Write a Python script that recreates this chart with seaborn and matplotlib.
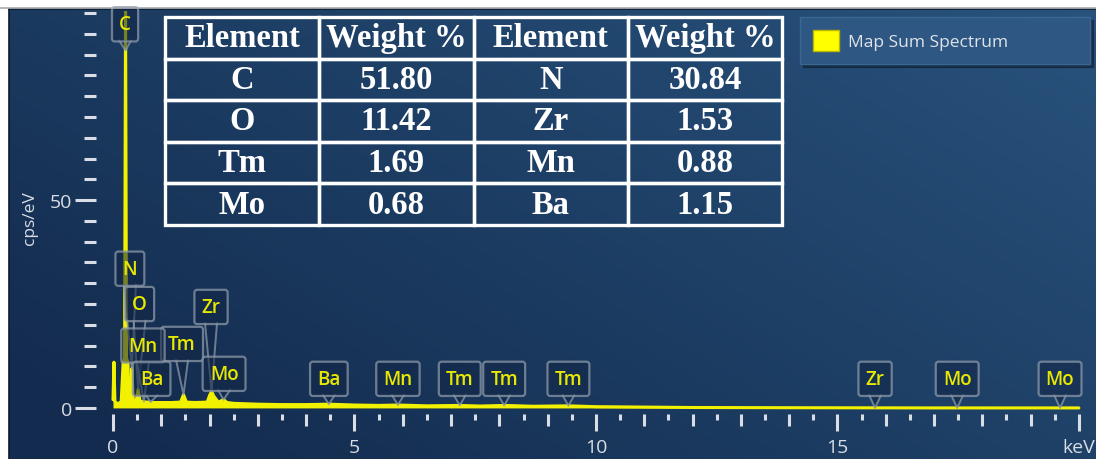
import numpy as np
import matplotlib
matplotlib.use("Agg")
import matplotlib.pyplot as plt
import seaborn as sns
from matplotlib.patches import Patch
from matplotlib.ticker import MultipleLocator, FixedLocator, FixedFormatter

sns.set_theme(style="dark")
plt.rcParams["font.family"] = ["Open Sans", "DejaVu Sans"]

# EDS spectrum (energy in keV, intensity in cps/eV)
energy_kev = [0.00, 0.02, 0.04, 0.10, 0.17, 0.21, 0.24, 0.26, 0.28, 0.31, 0.33,
              0.36, 0.39, 0.42, 0.48, 0.52, 0.56, 0.64, 0.70, 0.78, 0.85, 1.00,
              1.20, 1.40, 1.46, 1.52, 1.70, 1.95, 2.00, 2.04, 2.09, 2.18, 2.29,
              2.36, 2.50, 3.00, 3.50, 4.00, 4.47, 5.00, 5.50, 5.90, 6.50, 7.18,
              7.60, 8.10, 8.70, 9.43, 10.00, 11.00, 12.00, 14.00, 17.00, 20.00]
counts_cps = [2.0, 11.0, 1.5, 1.0, 1.5, 11.0, 12.0, 97.0, 12.0, 11.0, 3.0,
              2.0, 9.5, 2.0, 1.6, 4.5, 1.6, 1.5, 1.4, 1.4, 1.3, 1.3,
              1.3, 1.4, 3.2, 1.4, 1.3, 1.4, 3.0, 4.0, 2.8, 1.4, 2.0,
              1.3, 1.1, 0.9, 0.8, 0.8, 0.9, 0.7, 0.6, 0.7, 0.5, 0.6,
              0.45, 0.6, 0.4, 0.5, 0.3, 0.2, 0.1, 0.05, 0.0, 0.0]

# Peak identification labels
label_elements = ["C", "N", "O", "Zr", "Tm", "Mn", "Ba", "Mo",
                  "Ba", "Mn", "Tm", "Tm", "Tm", "Zr", "Mo", "Mo"]
label_lines_kev = [0.26, 0.39, 0.52, 2.04, 1.46, 0.64, 0.78, 2.29,
                   4.47, 5.90, 7.18, 8.10, 9.43, 15.78, 17.48, 19.61]
label_tips_cps = [86.0, 9.5, 4.5, 4.0, 3.2, 1.5, 1.4, 2.0,
                  0.9, 0.7, 0.6, 0.6, 0.5, 0.0, 0.0, 0.0]
label_box_x_kev = [0.25, 0.35, 0.55, 2.03, 1.43, 0.62, 0.80, 2.30,
                   4.47, 5.90, 7.18, 8.10, 9.43, 15.78, 17.48, 19.61]
label_box_y_cps = [92.3, 33.5, 25.0, 24.3, 15.4, 15.0, 7.0, 8.2,
                   7.0, 7.0, 7.0, 7.0, 7.0, 7.0, 7.0, 7.0]

# Quantification results
table_header = ["Element", "Weight %", "Element", "Weight %"]
elements_left = ["C", "O", "Tm", "Mo"]
weight_left = [51.80, 11.42, 1.69, 0.68]
elements_right = ["N", "Zr", "Mn", "Ba"]
weight_right = [30.84, 1.53, 0.88, 1.15]

x_tick_values = [0, 5, 10, 15, 20]
x_tick_labels = ["0", "5", "10", "15", "keV"]
y_tick_values = [0, 50]

W, H = 1096, 460
fig = plt.figure(figsize=(W / 100, H / 100), dpi=100, facecolor="white")

# Panel background with soft gradient
bg = fig.add_axes([9 / W, 0, 1 - 9 / W, 450 / H])
gx, gy = np.meshgrid(np.linspace(0, 1, 300), np.linspace(0, 1, 150))
t = np.clip(0.65 * gx + 0.45 * (1 - gy) - 0.08, 0, 1)
dark = np.array([19, 43, 78]) / 255
light = np.array([40, 82, 124]) / 255
img = dark[None, None, :] * (1 - t[..., None]) + light[None, None, :] * t[..., None]
bg.imshow(img, aspect="auto", extent=[0, 1, 0, 1], origin="upper")
bg.set_xlim(0, 1)
bg.set_ylim(0, 1)
bg.set_xticks([])
bg.set_yticks([])
for side, sp in bg.spines.items():
    sp.set_visible(side in ("top", "left"))
    sp.set_color("#0d1a2c")
    sp.set_linewidth(1.2)
fig.add_artist(plt.Line2D([0, 1], [1 - 8.5 / H, 1 - 8.5 / H], transform=fig.transFigure,
                          color="#a8adb3", lw=1.2))

ax = fig.add_axes([110 / W, (H - 411) / H, 980 / W, 399 / H])
ax.set_facecolor("none")
ax.set_xlim(-0.062, 20.23)
ax.set_ylim(-0.5, 95.5)

yellow = "#f2f200"
sns.lineplot(x=energy_kev, y=counts_cps, ax=ax, color=yellow, lw=2.2,
             estimator=None, zorder=2, legend=False)
ax.fill_between(energy_kev, counts_cps, 0, color=yellow, lw=0, zorder=2)

tick_color = "#d9dde6"
for sp in ax.spines.values():
    sp.set_visible(False)
ax.spines["left"].set_position(("outward", 10))
ax.spines["bottom"].set_position(("outward", 3))
ax.grid(False)

ax.xaxis.set_major_locator(FixedLocator(x_tick_values))
ax.xaxis.set_major_formatter(FixedFormatter(x_tick_labels))
ax.xaxis.set_minor_locator(MultipleLocator(1))
ax.yaxis.set_major_locator(FixedLocator(y_tick_values))
ax.yaxis.set_minor_locator(MultipleLocator(5))
ax.tick_params(axis="x", which="major", direction="out", length=12, width=2.2,
               color=tick_color, labelcolor=tick_color, labelsize=14, pad=5, bottom=True)
ax.tick_params(axis="x", which="minor", direction="out", length=8.5, width=2.2,
               color=tick_color, bottom=True)
ax.tick_params(axis="y", which="major", direction="out", length=15, width=2.2,
               color=tick_color, labelcolor=tick_color, labelsize=14, pad=2, left=True)
ax.tick_params(axis="y", which="minor", direction="out", length=8.5, width=2.2,
               color=tick_color, left=True)

# Half-keV ticks on a twin axis
ax_half = ax.twiny()
ax_half.set_xlim(ax.get_xlim())
for sp in ax_half.spines.values():
    sp.set_visible(False)
ax_half.spines["bottom"].set_position(("outward", 3))
ax_half.xaxis.set_ticks_position("bottom")
ax_half.xaxis.set_major_locator(FixedLocator(np.arange(0.5, 20, 1.0)))
ax_half.tick_params(axis="x", which="major", direction="out", length=4.5, width=2.2,
                    color=tick_color, labelbottom=False, labeltop=False, bottom=True, top=False)
ax_half.set_facecolor("none")
ax_half.grid(False)

ax.set_ylabel("cps/eV", color=tick_color, fontsize=12.5)
ax.yaxis.set_label_coords(-0.073, 0.484)
ax.set_xlabel("")

# Peak labels
box_fc = (0.07, 0.15, 0.27, 0.55)
box_ec = (0.55, 0.60, 0.66, 0.75)
texts = []
for el, bx, by in zip(label_elements, label_box_x_kev, label_box_y_cps):
    txt = ax.text(bx, by, el, ha="center", va="center", color="#e8e800", fontsize=13.5,
                  fontweight="semibold", zorder=5,
                  bbox=dict(boxstyle="round,pad=0.38,rounding_size=0.15",
                            fc=box_fc, ec=box_ec, lw=1.6))
    texts.append(txt)

fig.canvas.draw()
inv = ax.transData.inverted()
for txt, tip_x, tip_y in zip(texts, label_lines_kev, label_tips_cps):
    bb = txt.get_bbox_patch().get_window_extent()
    cx = 0.5 * (bb.x0 + bb.x1)
    (lx, byd), (rx, _) = inv.transform([(cx - 6, bb.y0 + 1), (cx + 6, bb.y0 + 1)])
    ax.fill([lx, tip_x, rx], [byd, tip_y, byd], color=box_fc, lw=0, zorder=4)
    ax.plot([lx, tip_x, rx], [byd, tip_y, byd], color=box_ec, lw=1.4, zorder=4)

# Composition table
cell_text = [[el_l, f"{w_l:.2f}", el_r, f"{w_r:.2f}"]
             for el_l, w_l, el_r, w_r in zip(elements_left, weight_left, elements_right, weight_right)]
x0 = (165 - 110) / 980
x1 = (782 - 110) / 980
y1 = (411 - 18) / 399
y0 = (411 - 226) / 399
table = ax.table(cellText=cell_text, colLabels=table_header, cellLoc="center",
                 bbox=[x0, y0, x1 - x0, y1 - y0], zorder=6)
table.auto_set_font_size(False)
for (r, c), cell in table.get_celld().items():
    cell.set_facecolor("none")
    cell.set_edgecolor("white")
    cell.set_linewidth(2.4)
    cell.get_text().set_fontfamily("Liberation Serif")
    cell.get_text().set_fontweight("bold")
    cell.get_text().set_fontsize(23.5)
    cell.get_text().set_color("white")

# Legend
handle = Patch(facecolor="#ffff00", edgecolor="#b8b800", lw=1)
leg = ax.legend([handle], ["Map Sum Spectrum"], loc="upper left",
                bbox_to_anchor=(800 / W, 1 - 18 / H - 0.01, 290 / W, 0.01),
                bbox_transform=fig.transFigure, mode="expand", borderaxespad=0,
                fontsize=12.5, handlelength=1.55, handleheight=1.55, handletextpad=0.5,
                borderpad=0.72, fancybox=False, shadow=True, framealpha=1,
                facecolor="#2e5883", edgecolor="#3a6790", labelcolor="#dfe3ea")
leg.set_zorder(7)

fig.savefig("out.png", dpi=100, facecolor=fig.get_facecolor())
